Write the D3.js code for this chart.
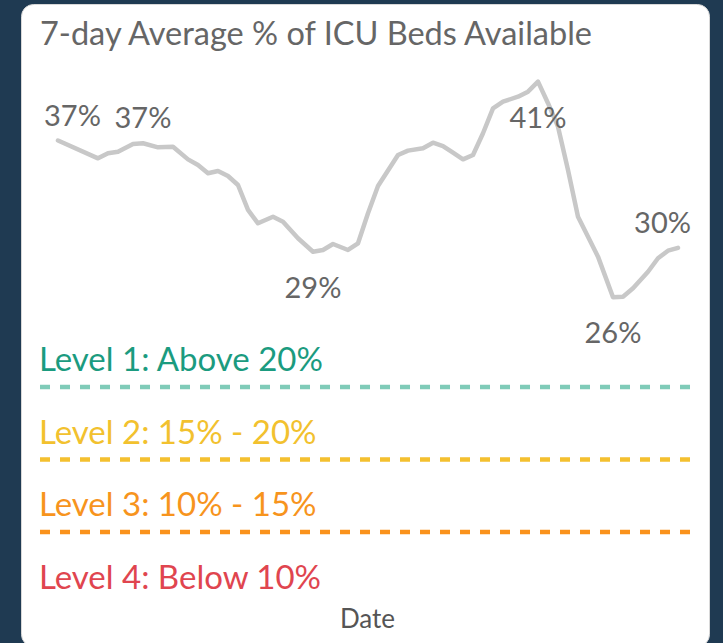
<!DOCTYPE html>
<html>
<head>
<meta charset="utf-8">
<script src="https://cdn.jsdelivr.net/npm/d3@7"></script>
<style>
    html, body { margin: 0; padding: 0; background: #1f3a52; }
    svg { display: block; }
</style>
</head>
<body>
<div id="chart"></div>
<script>
// data (day offset from the first point, % of ICU beds available)
const days = [0, 8, 10, 12, 15, 17, 20, 23, 26, 28, 30, 32, 34, 36, 38, 40, 43, 45, 48, 51, 53, 55, 58, 60,
    62, 64, 68, 70, 73, 75, 77, 79, 81, 83, 85, 87, 89, 92, 94, 96, 98, 100, 102, 104, 108, 111, 113, 115,
    118, 120, 122, 124];
const values = [37.0, 35.77, 36.12, 36.23, 36.76, 36.81, 36.53, 36.57, 35.70, 35.31, 34.74, 34.90, 34.55, 33.93,
    32.21, 31.29, 31.74, 31.40, 30.26, 29.33, 29.45, 29.86, 29.45, 29.91,
    31.98, 33.86, 36.0, 36.30, 36.46, 36.85, 36.62, 36.16, 35.70, 36.0, 37.50, 39.22, 39.68, 40.02,
    40.37, 41.06, 39.57, 37.95, 34.97, 31.74, 28.99, 26.19, 26.23, 26.81, 27.95, 28.88, 29.40, 29.6];
const labelDays = [0, 17, 51, 96, 111, 124];

const levelNames = ["Level 1: Above 20%", "Level 2: 15% - 20%", "Level 3: 10% - 15%", "Level 4: Below 10%"];
const levelThresholds = [20, 15, 10, 5];
const levelColors = ["#1b9b7f", "#f2c12e", "#f7941d", "#e0454f"];
const dashColors = ["#7fcbb8", "#f4c02f", "#fa921c", "none"];

const chartTitle = "7-day Average % of ICU Beds Available";
const xTitle = "Date";

const W = 723, H = 643;
const font = "Lato, 'Open Sans', sans-serif";

const svg = d3.select("#chart").append("svg")
    .attr("width", W)
    .attr("height", H);

// card
svg.append("rect")
    .attr("x", 21.5).attr("y", 4.5)
    .attr("width", 688).attr("height", 642)
    .attr("rx", 12)
    .attr("fill", "#fff")
    .attr("stroke", "#d8d8d8")
    .attr("stroke-width", 1);

svg.append("text")
    .attr("x", 40).attr("y", 45)
    .attr("font-family", font)
    .attr("font-size", 32.5)
    .attr("fill", "#666")
    .text(chartTitle);

const plotLeft = 44, plotRight = 691;

const x = d3.scaleLinear()
    .domain([0, 124])
    .range([58, 678]);

const y = d3.scaleLinear()
    .domain([10, 20])
    .range([532, 387]);

// level reference lines
levelThresholds.forEach((t, i) => {
    if (dashColors[i] !== "none") {
        svg.append("line")
            .attr("x1", 40).attr("x2", 696)
            .attr("y1", y(t)).attr("y2", y(t))
            .attr("stroke", dashColors[i])
            .attr("stroke-width", 4.5)
            .attr("stroke-dasharray", "10 10");
    }
    svg.append("text")
        .attr("x", 39)
        .attr("y", y(t) - 16)
        .attr("font-family", font)
        .attr("font-size", 33)
        .attr("fill", levelColors[i])
        .text(levelNames[i]);
});

const data = days.map((d, i) => ({ day: d, value: values[i] }));

const line = d3.line()
    .x(d => x(d.day))
    .y(d => y(d.value));

svg.append("path")
    .datum(data)
    .attr("fill", "none")
    .attr("stroke", "#c8c8c8")
    .attr("stroke-width", 4.5)
    .attr("stroke-linejoin", "round")
    .attr("stroke-linecap", "round")
    .attr("d", line);

// data labels: below local minima and where there is no room above
const maxValue = d3.max(values);
labelDays.forEach(day => {
    const i = days.indexOf(day);
    const v = values[i];
    const prev = i > 0 ? values[i - 1] : Infinity;
    const next = i < values.length - 1 ? values[i + 1] : Infinity;
    const below = (v < prev && v < next) || v === maxValue;
    const t = svg.append("text")
        .attr("font-family", font)
        .attr("font-size", 29)
        .attr("fill", "#666")
        .attr("text-anchor", "middle")
        .attr("y", below ? y(v) + 46 : y(v) - 15)
        .text(Math.round(v) + "%");
    const half = t.node().getComputedTextLength() / 2;
    const cx = Math.min(Math.max(x(day), plotLeft + half), plotRight - half);
    t.attr("x", cx);
});

svg.append("text")
    .attr("x", (plotLeft + plotRight) / 2)
    .attr("y", 628)
    .attr("text-anchor", "middle")
    .attr("font-family", font)
    .attr("font-size", 26)
    .attr("fill", "#555")
    .text(xTitle);
</script>
</body>
</html>
